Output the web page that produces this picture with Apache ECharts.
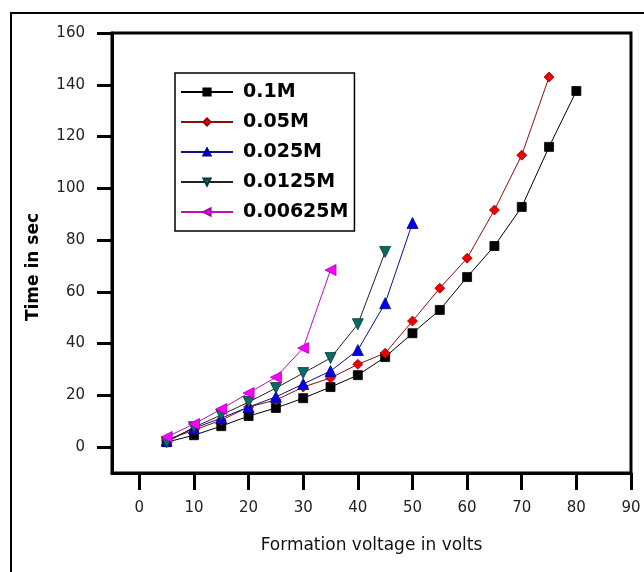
<!DOCTYPE html>
<html>
<head>
<meta charset="utf-8">
<script src="https://cdn.jsdelivr.net/npm/echarts@6/dist/echarts.min.js"></script>
<style>
	html, body { margin: 0; padding: 0; background: #fff; }
	#chart { width: 644px; height: 572px; }
</style>
</head>
<body>
<div id="chart"></div>
<script>
(function() {
	'use strict';

	// voltages (V) and formation times (s)
	var volts = [5, 10, 15, 20, 25, 30, 35, 40, 45, 50, 55, 60, 65, 70, 75, 80];
	var t_0_1M = [1.9, 4.6, 8.1, 12, 15.1, 18.9, 23.2, 27.8, 34.8, 44, 53, 65.7, 77.7, 92.8, 116, 137.6];
	var t_0_05M = [2.7, 6.6, 10.4, 15.5, 18.2, 23.2, 26.7, 32, 36.3, 48.7, 61.4, 73, 91.6, 112.8, 143];
	var t_0_025M = [2.5, 7.3, 11.2, 15.5, 19.4, 24.4, 29.4, 37.5, 55.6, 86.6];
	var t_0_0125M = [1.9, 7.7, 12.4, 17.4, 22.8, 28.6, 34.4, 47.5, 75.4];
	var t_0_00625M = [3.9, 8.9, 14.7, 20.9, 27, 38.3, 68.4];

	var seriesNames = ['0.1M', '0.05M', '0.025M', '0.0125M', '0.00625M'];
	var xTicks = [0, 10, 20, 30, 40, 50, 60, 70, 80, 90];
	var yTicks = [0, 20, 40, 60, 80, 100, 120, 140, 160];

	var chart = echarts.init(document.getElementById('chart'));

	function pairs(values) {
		return values.map(function (v, i) {
			return [volts[i], v];
		});
	}

	function makeSeries(name, values, symbol, size, fill, border, lineColor) {
		return {
			name: name,
			type: 'line',
			data: pairs(values),
			symbol: symbol,
			symbolSize: size,
			showAllSymbol: true,
			lineStyle: { color: lineColor, width: 1 },
			itemStyle: { color: fill, borderColor: border, borderWidth: 0.8 },
			emphasis: { disabled: true },
			z: 3
		};
	}

	var seriesList = [
		makeSeries(seriesNames[0], t_0_1M, 'rect', 9, '#000000', '#000000', '#000000'),
		makeSeries(seriesNames[1], t_0_05M, 'diamond', 10, '#ee0000', '#990000', '#8b1010'),
		makeSeries(seriesNames[2], t_0_025M, 'triangle', 11, '#0000ee', '#000088', '#10108a'),
		makeSeries(seriesNames[3], t_0_0125M, 'path://M0,0 L10,0 L5,10 Z', 11, '#0a6a66', '#053a38', '#222222'),
		makeSeries(seriesNames[4], t_0_00625M, 'path://M10,0 L10,10 L0,5 Z', 11, '#ff00ff', '#aa00aa', '#bb10bb')
	];

	var tickFont = { fontFamily: 'DejaVu Sans', fontSize: 15, color: '#222' };

	var option = {
		animation: false,
		backgroundColor: '#fff',
		grid: {
			left: 112,
			right: 13,
			top: 33,
			bottom: 99,
			show: true,
			borderColor: '#000',
			borderWidth: 3
		},
		legend: {
			data: seriesNames,
			orient: 'vertical',
			left: 175,
			top: 73,
			padding: [9, 6, 9, 5],
			itemWidth: 52,
			itemHeight: 9,
			itemGap: 10,
			borderColor: '#000',
			borderWidth: 1.5,
			backgroundColor: '#fff',
			textStyle: {
				fontFamily: 'DejaVu Sans',
				fontWeight: 'bold',
				fontSize: 19,
				lineHeight: 20,
				color: '#000',
				padding: [0, 0, 0, 5]
			}
		},
		xAxis: {
			type: 'value',
			min: -5,
			max: 90,
			name: 'Formation voltage in volts',
			nameLocation: 'middle',
			nameGap: 64,
			nameTextStyle: { fontFamily: 'DejaVu Sans', fontSize: 17, color: '#111' },
			axisLine: { onZero: false, lineStyle: { color: '#000', width: 3 } },
			axisTick: { customValues: xTicks, length: 17, lineStyle: { color: '#000', width: 3 } },
			axisLabel: {
				customValues: xTicks,
				margin: 28,
				fontFamily: tickFont.fontFamily,
				fontSize: tickFont.fontSize,
				color: tickFont.color
			},
			splitLine: { show: false }
		},
		yAxis: {
			type: 'value',
			min: -10,
			max: 160,
			axisLine: { show: true, onZero: false, lineStyle: { color: '#000', width: 3 } },
			axisTick: { show: true, customValues: yTicks, length: 15, lineStyle: { color: '#000', width: 3 } },
			axisLabel: {
				customValues: yTicks,
				margin: 27,
				fontFamily: tickFont.fontFamily,
				fontSize: tickFont.fontSize,
				color: tickFont.color
			},
			splitLine: { show: false }
		},
		graphic: [
			{
				type: 'rect',
				shape: { x: 11, y: 13, width: 700, height: 620 },
				style: { fill: 'none', stroke: '#000', lineWidth: 2 },
				silent: true
			},
			{
				type: 'text',
				x: 34,
				y: 267,
				rotation: Math.PI / 2,
				style: {
					text: 'Time in sec',
					fontFamily: 'DejaVu Sans',
					fontWeight: 'bold',
					fontSize: 17,
					fill: '#000',
					align: 'center',
					verticalAlign: 'middle'
				}
			}
		],
		series: seriesList
	};

	chart.setOption(option);
})();
</script>
</body>
</html>
